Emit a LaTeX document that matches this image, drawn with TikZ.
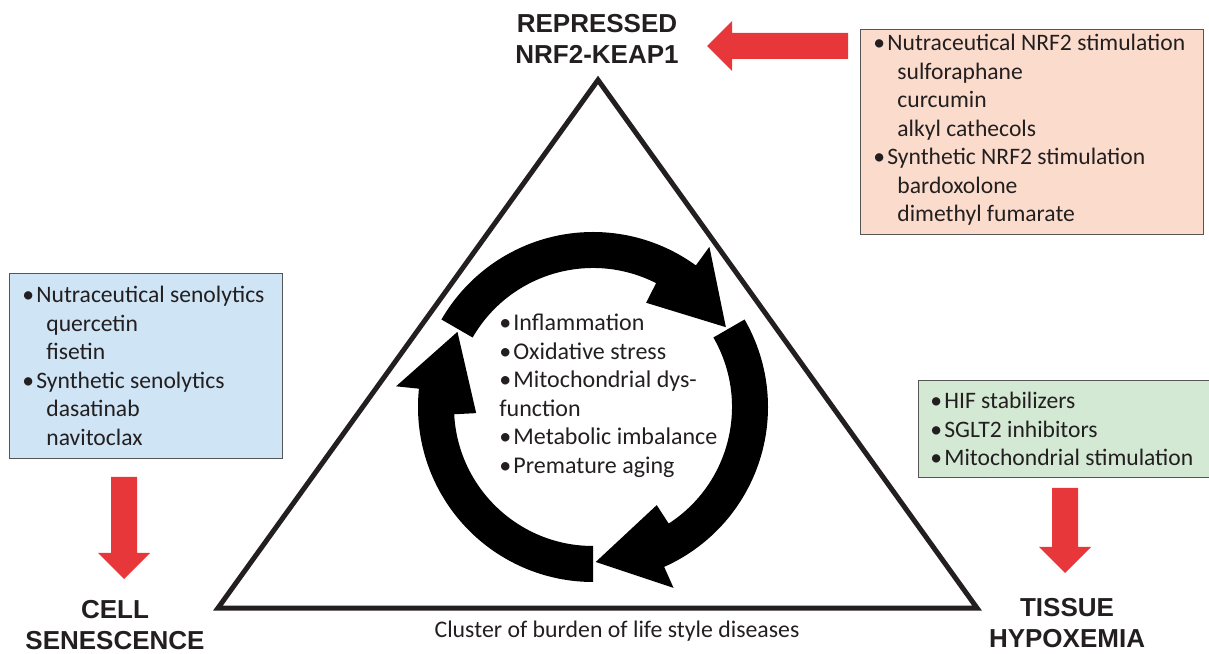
\documentclass[tikz,border=0pt]{standalone}
\usepackage{fontspec}
\setmainfont{Carlito}
\newfontfamily\headfont{Liberation Sans}
\usepackage{xcolor}
\usetikzlibrary{positioning}
\definecolor{arrowred}{HTML}{E8373B}
\definecolor{peachfill}{HTML}{FBDCCC}
\definecolor{bluefill}{HTML}{CFE4F5}
\definecolor{greenfill}{HTML}{D3E9D4}
\definecolor{textgray}{HTML}{231F20}
\definecolor{boxline}{HTML}{555555}
\tikzset{
    info-box/.style = {draw=boxline, line width=0.6pt, rectangle, anchor=north west, inner sep=0pt},
    info-text/.style = {inner sep=0pt, align=left, text=textgray, font=\fontsize{11.8}{14.25}\selectfont},
    head-label/.style = {align=center, text=textgray, font=\headfont\bfseries\fontsize{13}{15.5}\selectfont},
    block-arrow/.style = {fill=arrowred},
}
\newcommand{\bulletmark}{\makebox[7pt][l]{\textbullet}}
\newcommand{\subindent}{\hspace*{12pt}}

\begin{document}
\begin{tikzpicture}[x=0.5pt, y=0.5pt]
\useasboundingbox (0,0) rectangle (1209,653);

% triangle
\coordinate (apex) at (598,573);
\coordinate (left-corner) at (218,45);
\coordinate (right-corner) at (977,45);
\draw[line width=2.5pt, line join=miter, textgray] (apex) -- (left-corner) -- (right-corner) -- cycle;

% vicious circle
\foreach \a in {150,30,270}
    \fill[shift={(593,246)}] (\a:175) arc[start angle=\a, end angle=\a-96, radius=175] -- (\a-96:198) -- (\a-119:155) -- (\a-87:117) -- (\a-87:139) arc[start angle=\a-87, end angle=\a, radius=139] -- cycle;
\node [info-text, anchor=west, font=\fontsize{12}{14.25}\selectfont] (circle-text) at (499,257) {\bulletmark Inflammation\\ \bulletmark Oxidative stress\\ \bulletmark Mitochondrial dys-\\ function\\ \bulletmark Metabolic imbalance\\ \bulletmark Premature aging};

% corner labels
\node [head-label] (nrf2) at (597,614) {REPRESSED\\NRF2-KEAP1};
\node [head-label] (senescence) at (115,28) {CELL\\SENESCENCE};
\node [head-label] (hypoxemia) at (1067,30) {TISSUE\\HYPOXEMIA};
\node [text=textgray, font=\fontsize{11.9}{14}\selectfont] (cluster) at (617,22) {Cluster of burden of life style diseases};

% treatment boxes
\node [info-box, fill=peachfill, minimum width=171.5pt, minimum height=102.5pt] (nrf2-box) at (860,624) {};
\node [info-text, right=6.5pt of nrf2-box.west, yshift=1pt] (nrf2-list) {\bulletmark Nutraceutical NRF2 stimulation\\ \subindent sulforaphane\\ \subindent curcumin\\ \subindent alkyl cathecols\\ \bulletmark Synthetic NRF2 stimulation\\ \subindent bardoxolone\\ \subindent dimethyl fumarate};
\node [info-box, fill=bluefill, minimum width=136.5pt, minimum height=92.5pt] (senolytic-box) at (9,380) {};
\node [info-text, right=6.5pt of senolytic-box.west] (senolytic-list) {\bulletmark Nutraceutical senolytics\\ \subindent quercetin\\ \subindent fisetin\\ \bulletmark Synthetic senolytics\\ \subindent dasatinab\\ \subindent navitoclax};
\node [info-box, fill=greenfill, minimum width=147pt, minimum height=48.5pt] (hypoxia-box) at (918,273) {};
\node [info-text, right=6pt of hypoxia-box.west] (hypoxia-list) {\bulletmark HIF stabilizers\\ \bulletmark SGLT2 inhibitors\\ \bulletmark Mitochondrial stimulation};

% red arrows
\coordinate (nrf2-tip) at (707,607);
\coordinate (senescence-tip) at (124,74);
\coordinate (hypoxemia-tip) at (1065,80);
\fill[block-arrow] (nrf2-tip) -- ++(25,25) -- ++(0,-12) -- ++(116,0) -- ++(0,-26) -- ++(-116,0) -- ++(0,-12) -- cycle;
\fill[block-arrow] (senescence-tip) -- ++(-26,26) -- ++(13,0) -- ++(0,76) -- ++(26,0) -- ++(0,-76) -- ++(13,0) -- cycle;
\fill[block-arrow] (hypoxemia-tip) -- ++(-26,26) -- ++(13,0) -- ++(0,59) -- ++(26,0) -- ++(0,-59) -- ++(13,0) -- cycle;
\end{tikzpicture}
\end{document}
